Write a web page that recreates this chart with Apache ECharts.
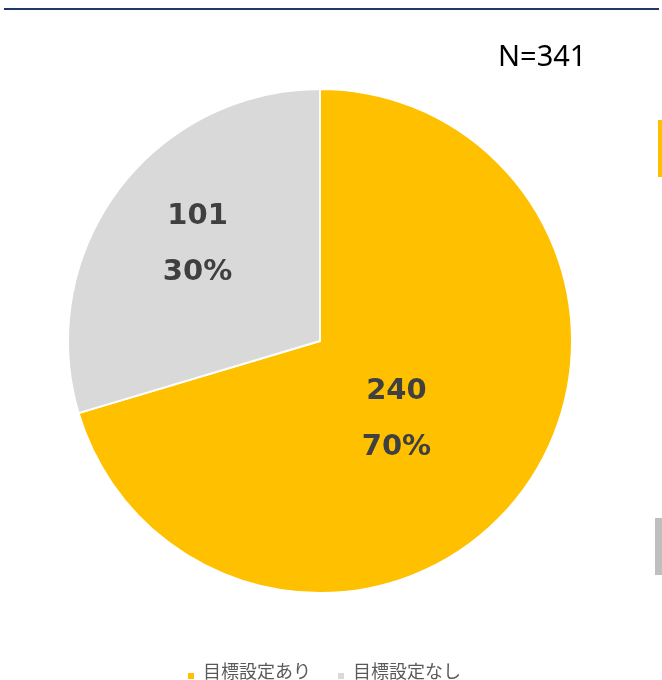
<!DOCTYPE html>
<html>
<head>
<meta charset="utf-8">
<script src="https://cdn.jsdelivr.net/npm/echarts@6/dist/echarts.min.js"></script>
<style>
html,body{margin:0;padding:0;background:#fff;}
#chart{width:662px;height:680px;}
</style>
</head>
<body>
<div id="chart"></div>
<script>
const categories = ['目標設定あり', '目標設定なし'];
const values = [240, 101];
const sliceColors = ['#FFC000', '#D9D9D9'];
const totalLabel = 'N=341';
const labelShift = [[-27, 1], [-19, -19]];

const chart = echarts.init(document.getElementById('chart'), null, {renderer: 'canvas'});
chart.setOption({
  animation: false,
  backgroundColor: '#ffffff',
  color: sliceColors,
  title: {
    text: totalLabel,
    left: 493, top: 38,
    padding: 5,
    textStyle: {fontFamily: 'Noto Sans', fontSize: 29, fontWeight: 'normal', color: '#000000'}
  },
  legend: {
    left: 186, top: 661,
    padding: 0,
    itemWidth: 8, itemHeight: 18, itemGap: 25,
    icon: 'path://M0,0M0,10L8,10L8,18L0,18Z',
    data: categories,
    textStyle: {fontFamily: 'Noto Sans CJK JP', fontSize: 18, color: '#595959', padding: [0, 0, 0, 3]}
  },
  graphic: [
    {type: 'rect', shape: {x: 4, y: 8, width: 655, height: 2}, style: {fill: '#1F3864'}},
    {type: 'rect', shape: {x: 658, y: 120, width: 4, height: 57}, style: {fill: '#FFC000'}},
    {type: 'rect', shape: {x: 655, y: 518, width: 7, height: 57}, style: {fill: '#BFBFBF'}}
  ],
  series: [{
    type: 'pie',
    center: [320, 341],
    radius: 252,
    startAngle: 90,
    clockwise: true,
    percentPrecision: 0,
    itemStyle: {borderColor: '#ffffff', borderWidth: 2},
    label: {
      show: true,
      position: 'inside',
      formatter: '{v|{c}}\n{p|{d}%}',
      rich: {
        v: {fontFamily: 'DejaVu Sans', fontWeight: 'bold', fontSize: 29, color: '#404040', lineHeight: 56},
        p: {fontFamily: 'DejaVu Sans', fontWeight: 'bold', fontSize: 29, color: '#404040', lineHeight: 56}
      }
    },
    labelLayout: function (params) {
      const s = labelShift[params.dataIndex];
      return {dx: s[0], dy: s[1]};
    },
    labelLine: {show: false},
    emphasis: {disabled: true},
    data: categories.map((c, i) => ({name: c, value: values[i]}))
  }]
});
</script>
</body>
</html>
